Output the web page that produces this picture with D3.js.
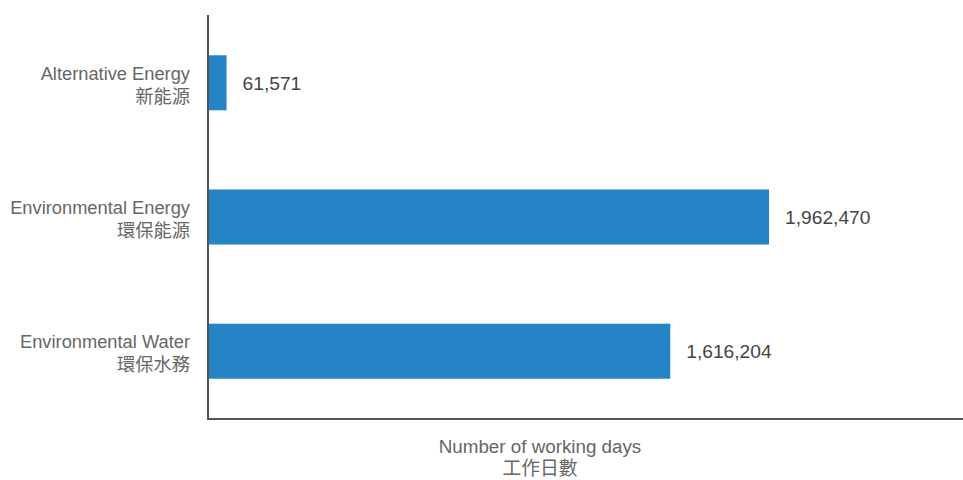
<!DOCTYPE html>

<html lang="en">
<head>
    <meta charset="utf-8" />
    <title>Working days</title>
    <style>
        body { margin: 0; background: #fff; }
        text {
            font-family: "Liberation Sans", Arial, "Noto Sans CJK TC", sans-serif;
        }
        .cat { font-size: 18.3px; fill: #666; }
        .xtitle { font-size: 18.8px; fill: #666; }
        .val { font-size: 19.2px; fill: #444; }
        .axis path, .axis line { fill: none; stroke: #555; stroke-width: 2; }
    </style>
</head>
<body>
    <div id="graph"></div>
    <script src="https://d3js.org/d3.v7.min.js"></script>
    <script>
        var categoriesEn = ["Alternative Energy", "Environmental Energy", "Environmental Water"];
        var categoriesZh = ["新能源", "環保能源", "環保水務"];
        var values = [61571, 1962470, 1616204];
        var xTitle = ["Number of working days", "工作日數"];

        var data = categoriesEn.map(function (c, i) {
            return { en: c, zh: categoriesZh[i], value: values[i] };
        });

        // note: "top" is a reserved window property, so use a plot box object
        var W = 963, H = 480;
        var plot = { left: 209, right: 963, top: 15, bottom: 419 };

        var svg = d3.select("#graph").append("svg")
            .attr("width", W)
            .attr("height", H);

        var y = d3.scaleBand()
            .domain(categoriesEn)
            .range([plot.top, plot.bottom])
            .paddingInner(0.59)
            .paddingOuter(0.3);

        var x = d3.scaleLinear()
            .domain([0, 2642000])
            .range([plot.left, plot.right]);

        // bars
        svg.selectAll(".bar")
            .data(data)
            .enter()
            .append("rect")
            .attr("class", "bar")
            .attr("x", x(0))
            .attr("y", function (d) { return y(d.en); })
            .attr("width", function (d) { return x(d.value) - x(0); })
            .attr("height", y.bandwidth())
            .style("fill", "#2484c6");

        // value labels
        svg.selectAll(".val")
            .data(data)
            .enter()
            .append("text")
            .attr("class", "val")
            .attr("x", function (d) { return x(d.value) + 16; })
            .attr("y", function (d) { return y(d.en) + y.bandwidth() / 2; })
            .attr("dy", "0.36em")
            .text(function (d) { return d3.format(",")(d.value); });

        // category labels, two lines
        var cat = svg.selectAll(".cat")
            .data(data)
            .enter()
            .append("text")
            .attr("class", "cat")
            .attr("text-anchor", "end")
            .attr("transform", function (d) {
                return "translate(190," + (y(d.en) + y.bandwidth() / 2) + ")";
            });
        cat.append("tspan").attr("x", 0).attr("y", -3).text(function (d) { return d.en; });
        cat.append("tspan").attr("x", 0).attr("y", 20).text(function (d) { return d.zh; });

        // axis lines
        svg.append("g")
            .attr("class", "axis")
            .attr("transform", "translate(" + (plot.left - 1) + ",0)")
            .call(d3.axisLeft(y).tickSize(0).tickFormat(""))
            .select(".domain").attr("d", "M0," + plot.top + "V" + plot.bottom);

        svg.append("g")
            .attr("class", "axis")
            .attr("transform", "translate(0," + plot.bottom + ")")
            .call(d3.axisBottom(x).tickSize(0).tickFormat("").ticks(0))
            .select(".domain").attr("d", "M" + (plot.left - 2) + ",0H" + plot.right);

        // x title
        var xt = svg.append("text")
            .attr("class", "xtitle")
            .attr("text-anchor", "middle")
            .attr("transform", "translate(540,0)");
        xt.append("tspan").attr("x", 0).attr("y", 453).text(xTitle[0]);
        xt.append("tspan").attr("x", 0).attr("y", 475).text(xTitle[1]);
    </script>
</body>
</html>
